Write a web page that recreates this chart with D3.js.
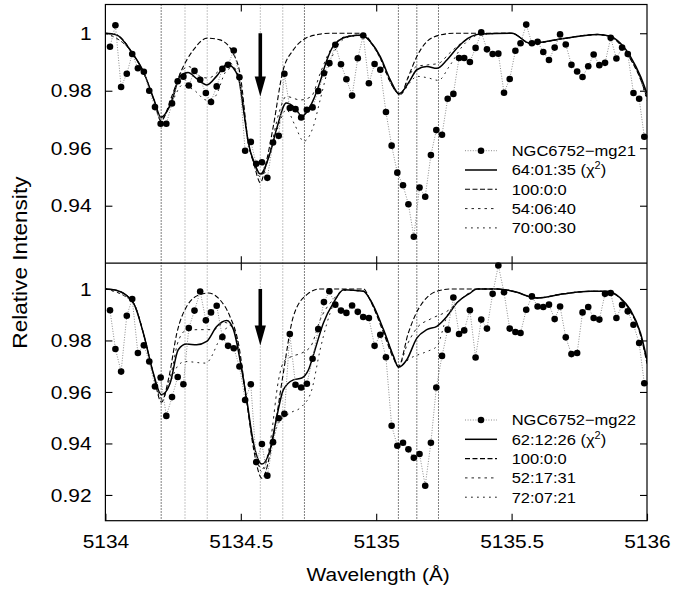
<!DOCTYPE html>
<html><head><meta charset="utf-8">
<script src="https://cdn.jsdelivr.net/npm/d3@7"></script>
<style>
body{margin:0;background:#fff}
svg{display:block}
text{font-family:"Liberation Sans",Arial,Helvetica,sans-serif;fill:#000}
</style>
</head><body>
<svg id="c" width="673" height="592"></svg>
<script>
// ---------------- data ----------------
const xDomain = [5134, 5136];
const yDomainTop = [0.92, 1.01];
const yDomainBottom = [0.91, 1.01];
const xTickValues = [5134, 5134.5, 5135, 5135.5, 5136];
const yTicksTop = [0.94, 0.96, 0.98, 1];
const yTicksBottom = [0.92, 0.94, 0.96, 0.98, 1];
const lineCenters = [5134.206, 5134.294, 5134.376, 5134.572, 5134.655, 5134.735, 5135.082, 5135.150, 5135.230];
const arrowWavelength = 5134.572;
const arrowTipValue = 0.978;

const wavelengths = [
5134.017,5134.037,5134.058,5134.079,5134.099,5134.120,5134.142,5134.162,5134.183,5134.204,
5134.225,5134.246,5134.267,5134.288,5134.308,5134.329,5134.350,5134.371,5134.390,5134.411,
5134.432,5134.453,5134.474,5134.495,5134.516,5134.537,5134.557,5134.578,5134.598,5134.619,
5134.640,5134.661,5134.681,5134.702,5134.723,5134.744,5134.765,5134.786,5134.807,5134.827,
5134.849,5134.870,5134.890,5134.911,5134.932,5134.952,5134.973,5134.994,5135.015,5135.036,
5135.057,5135.078,5135.099,5135.119,5135.139,5135.160,5135.181,5135.202,5135.222,5135.243,
5135.264,5135.285,5135.306,5135.325,5135.346,5135.367,5135.388,5135.409,5135.430,5135.451,
5135.472,5135.493,5135.514,5135.533,5135.554,5135.575,5135.596,5135.617,5135.638,5135.659,
5135.679,5135.700,5135.721,5135.742,5135.762,5135.783,5135.803,5135.824,5135.845,5135.866,
5135.887,5135.908,5135.929,5135.950,5135.971,5135.990];

const mg21 = [
0.9953,1.0028,0.9813,0.9859,0.9928,0.9878,0.9866,0.9800,0.9743,0.9685,
0.9685,0.9756,0.9833,0.9849,0.9818,0.9869,0.9838,0.9792,0.9761,0.9815,
0.9876,0.9890,0.9940,0.9847,0.9591,0.9622,0.9546,0.9551,0.9497,0.9620,
0.9643,0.9859,0.9740,0.9736,0.9707,0.9734,0.9742,0.9799,0.9861,0.9896,
0.9960,0.9892,0.9840,0.9783,0.9913,0.9992,0.9826,0.9893,0.9873,0.9726,
0.9609,0.9515,0.9471,0.9405,0.9292,0.9463,0.9431,0.9576,0.9663,0.9647,
0.9772,0.9789,0.9914,0.9914,0.9900,0.9949,1.0003,0.9944,0.9928,0.9929,
0.9793,0.9841,0.9939,0.9965,1.0030,0.9965,0.9970,0.9935,0.9907,0.9950,
0.9996,0.9961,0.9890,0.9867,0.9848,0.9885,0.9926,0.9889,0.9897,0.9984,
0.9912,0.9950,0.9928,0.9792,0.9772,0.9640];

const mg22 = [
0.9917,0.9767,0.9679,0.9896,0.9961,0.9751,0.9781,0.9718,0.9621,0.9656,
0.9507,0.9580,0.9658,0.9630,0.9848,0.9916,0.9990,0.9878,0.9909,0.9935,
0.9813,0.9779,0.9770,0.9699,0.9569,0.9630,0.9328,0.9398,0.9275,0.9405,
0.9498,0.9515,0.9825,0.9628,0.9617,0.9632,0.9729,0.9844,0.9949,0.9991,
0.9939,0.9916,0.9907,0.9936,0.9911,0.9891,0.9887,0.9779,0.9822,0.9735,
0.9469,0.9391,0.9403,0.9377,0.9344,0.9359,0.9236,0.9403,0.9617,0.9740,
0.9842,0.9967,0.9825,0.9839,0.9917,0.9734,0.9881,0.9846,0.9981,1.0091,
0.9987,0.9846,0.9833,0.9829,0.9919,0.9971,0.9932,0.9930,0.9939,0.9883,
0.9932,0.9812,0.9747,0.9751,0.9909,0.9930,0.9887,0.9881,0.9981,0.9984,
0.9887,0.9938,0.9913,0.9861,0.9790,0.9634];

// synthetic spectra, top panel (mg21)
const fit21Best = [[5134.000,1.0000],[5134.040,0.9995],[5134.100,0.9930],[5134.140,0.9867],[5134.180,0.9768],[5134.205,0.9708],[5134.245,0.9763],[5134.275,0.9850],[5134.305,0.9863],[5134.340,0.9840],[5134.375,0.9820],[5134.410,0.9850],[5134.450,0.9892],[5134.490,0.9850],[5134.510,0.9734],[5134.528,0.9618],[5134.550,0.9550],[5134.572,0.9510],[5134.608,0.9583],[5134.633,0.9670],[5134.668,0.9757],[5134.700,0.9740],[5134.725,0.9712],[5134.768,0.9768],[5134.793,0.9832],[5134.818,0.9907],[5134.842,0.9956],[5134.892,0.9988],[5134.947,0.9994],[5134.978,0.9971],[5135.015,0.9919],[5135.052,0.9838],[5135.085,0.9790],[5135.126,0.9838],[5135.150,0.9873],[5135.187,0.9884],[5135.224,0.9878],[5135.261,0.9907],[5135.298,0.9948],[5135.323,0.9971],[5135.384,0.9997],[5135.501,1.0000],[5135.569,0.9965],[5135.692,0.9982],[5135.816,0.9996],[5135.865,0.9990],[5135.902,0.9965],[5135.939,0.9919],[5135.976,0.9850],[5136.000,0.9790]];
const fit21Pure = [[5134.000,1.0000],[5134.040,0.9995],[5134.100,0.9930],[5134.140,0.9865],[5134.180,0.9765],[5134.205,0.9695],[5134.245,0.9780],[5134.276,0.9860],[5134.325,0.9942],[5134.376,0.9983],[5134.423,0.9977],[5134.472,0.9930],[5134.497,0.9860],[5134.528,0.9620],[5134.550,0.9540],[5134.572,0.9480],[5134.596,0.9560],[5134.620,0.9676],[5134.655,0.9867],[5134.694,0.9942],[5134.735,0.9980],[5134.793,0.9997],[5134.830,1.0000],[5134.947,1.0000],[5134.984,0.9965],[5135.015,0.9915],[5135.052,0.9830],[5135.089,0.9786],[5135.119,0.9850],[5135.150,0.9919],[5135.187,0.9971],[5135.237,0.9994],[5135.290,1.0000],[5135.501,1.0000],[5135.569,0.9965],[5135.692,0.9982],[5135.816,0.9996],[5135.865,0.9988],[5135.902,0.9960],[5135.939,0.9910],[5135.976,0.9840],[5136.000,0.9775]];
const fit21A = [[5134.000,1.0000],[5134.100,0.9930],[5134.140,0.9866],[5134.180,0.9765],[5134.205,0.9700],[5134.245,0.9770],[5134.276,0.9860],[5134.308,0.9884],[5134.350,0.9850],[5134.380,0.9844],[5134.420,0.9870],[5134.452,0.9900],[5134.490,0.9855],[5134.528,0.9615],[5134.550,0.9545],[5134.572,0.9500],[5134.608,0.9590],[5134.640,0.9720],[5134.668,0.9780],[5134.720,0.9768],[5134.760,0.9780],[5134.793,0.9860],[5134.830,0.9940],[5134.892,0.9990],[5134.947,0.9994],[5134.978,0.9968],[5135.015,0.9912],[5135.052,0.9830],[5135.087,0.9786],[5135.126,0.9860],[5135.150,0.9885],[5135.190,0.9890],[5135.230,0.9895],[5135.270,0.9930],[5135.323,0.9972],[5135.384,0.9997],[5135.501,1.0000],[5135.569,0.9964],[5135.692,0.9981],[5135.816,0.9995],[5135.865,0.9988],[5135.902,0.9962],[5135.939,0.9914],[5135.976,0.9843],[5136.000,0.9780]];
const fit21B = [[5134.000,1.0000],[5134.100,0.9930],[5134.140,0.9866],[5134.180,0.9766],[5134.205,0.9702],[5134.245,0.9760],[5134.285,0.9820],[5134.330,0.9800],[5134.372,0.9768],[5134.405,0.9780],[5134.445,0.9867],[5134.470,0.9880],[5134.495,0.9840],[5134.528,0.9615],[5134.550,0.9545],[5134.572,0.9505],[5134.608,0.9580],[5134.640,0.9680],[5134.668,0.9734],[5134.700,0.9680],[5134.732,0.9624],[5134.768,0.9676],[5134.793,0.9768],[5134.830,0.9900],[5134.892,0.9985],[5134.947,0.9992],[5134.978,0.9968],[5135.015,0.9912],[5135.052,0.9830],[5135.087,0.9786],[5135.126,0.9830],[5135.150,0.9850],[5135.190,0.9845],[5135.230,0.9836],[5135.270,0.9885],[5135.323,0.9960],[5135.384,0.9995],[5135.501,1.0000],[5135.569,0.9964],[5135.692,0.9981],[5135.816,0.9995],[5135.865,0.9987],[5135.902,0.9960],[5135.939,0.9910],[5135.976,0.9840],[5136.000,0.9765]];

// synthetic spectra, bottom panel (mg22)
const fit22Best = [[5134.000,1.0000],[5134.040,0.9995],[5134.103,0.9946],[5134.140,0.9829],[5134.177,0.9673],[5134.207,0.9589],[5134.239,0.9634],[5134.269,0.9764],[5134.300,0.9786],[5134.337,0.9783],[5134.374,0.9796],[5134.411,0.9854],[5134.448,0.9877],[5134.473,0.9842],[5134.497,0.9725],[5134.522,0.9569],[5134.547,0.9401],[5134.578,0.9320],[5134.608,0.9375],[5134.633,0.9504],[5134.657,0.9608],[5134.694,0.9647],[5134.725,0.9654],[5134.750,0.9686],[5134.774,0.9764],[5134.805,0.9868],[5134.842,0.9946],[5134.880,0.9997],[5134.953,0.9991],[5134.978,0.9958],[5135.027,0.9842],[5135.064,0.9738],[5135.082,0.9696],[5135.113,0.9725],[5135.150,0.9809],[5135.187,0.9842],[5135.224,0.9855],[5135.261,0.9893],[5135.298,0.9946],[5135.347,0.9984],[5135.372,1.0000],[5135.446,1.0000],[5135.520,0.9987],[5135.569,0.9969],[5135.594,0.9965],[5135.692,0.9981],[5135.791,0.9991],[5135.853,0.9991],[5135.902,0.9965],[5135.939,0.9919],[5135.976,0.9829],[5136.000,0.9725]];
const fit22Pure = [[5134.000,1.0000],[5134.040,0.9995],[5134.103,0.9946],[5134.140,0.9829],[5134.177,0.9670],[5134.207,0.9560],[5134.235,0.9660],[5134.264,0.9829],[5134.300,0.9932],[5134.349,0.9978],[5134.380,0.9984],[5134.423,0.9958],[5134.460,0.9893],[5134.491,0.9790],[5134.522,0.9560],[5134.547,0.9380],[5134.578,0.9265],[5134.620,0.9426],[5134.655,0.9660],[5134.694,0.9893],[5134.744,0.9978],[5134.793,1.0000],[5134.953,1.0000],[5134.978,0.9955],[5135.027,0.9830],[5135.064,0.9730],[5135.082,0.9699],[5135.119,0.9830],[5135.145,0.9900],[5135.175,0.9952],[5135.224,0.9991],[5135.280,1.0000],[5135.446,1.0000],[5135.520,0.9987],[5135.569,0.9969],[5135.594,0.9965],[5135.692,0.9981],[5135.791,0.9991],[5135.853,0.9990],[5135.902,0.9962],[5135.939,0.9912],[5135.976,0.9820],[5136.000,0.9710]];
const fit22A = [[5134.000,1.0000],[5134.103,0.9946],[5134.140,0.9829],[5134.177,0.9672],[5134.207,0.9575],[5134.240,0.9660],[5134.270,0.9800],[5134.300,0.9840],[5134.350,0.9842],[5134.400,0.9842],[5134.440,0.9870],[5134.475,0.9840],[5134.497,0.9730],[5134.522,0.9565],[5134.547,0.9395],[5134.578,0.9300],[5134.608,0.9400],[5134.640,0.9650],[5134.660,0.9720],[5134.694,0.9740],[5134.725,0.9751],[5134.760,0.9780],[5134.793,0.9880],[5134.842,0.9960],[5134.880,0.9995],[5134.953,0.9991],[5134.978,0.9958],[5135.027,0.9840],[5135.064,0.9738],[5135.082,0.9697],[5135.113,0.9780],[5135.150,0.9848],[5135.200,0.9883],[5135.261,0.9913],[5135.330,0.9975],[5135.372,1.0000],[5135.446,1.0000],[5135.520,0.9987],[5135.569,0.9969],[5135.594,0.9965],[5135.692,0.9981],[5135.791,0.9991],[5135.853,0.9990],[5135.902,0.9963],[5135.939,0.9915],[5135.976,0.9825],[5136.000,0.9718]];
const fit22B = [[5134.000,1.0000],[5134.103,0.9946],[5134.140,0.9829],[5134.177,0.9670],[5134.207,0.9570],[5134.240,0.9640],[5134.270,0.9705],[5134.295,0.9718],[5134.370,0.9712],[5134.430,0.9820],[5134.460,0.9860],[5134.480,0.9830],[5134.497,0.9725],[5134.522,0.9565],[5134.547,0.9395],[5134.578,0.9290],[5134.608,0.9380],[5134.640,0.9480],[5134.680,0.9517],[5134.725,0.9543],[5134.762,0.9608],[5134.793,0.9764],[5134.842,0.9940],[5134.880,0.9995],[5134.953,0.9991],[5134.978,0.9958],[5135.027,0.9840],[5135.064,0.9738],[5135.082,0.9697],[5135.126,0.9731],[5135.187,0.9757],[5135.224,0.9777],[5135.261,0.9893],[5135.298,0.9946],[5135.347,0.9984],[5135.372,1.0000],[5135.446,1.0000],[5135.520,0.9987],[5135.569,0.9969],[5135.594,0.9965],[5135.692,0.9981],[5135.791,0.9991],[5135.853,0.9990],[5135.902,0.9963],[5135.939,0.9915],[5135.976,0.9825],[5136.000,0.9715]];

const legendTop = ["NGC6752\u2212mg21", "64:01:35", "100:0:0", "54:06:40", "70:00:30"];
const legendBottom = ["NGC6752\u2212mg22", "62:12:26", "100:0:0", "52:17:31", "72:07:21"];
const xTitle = "Wavelength (\u00C5)";
const yTitle = "Relative Intensity";

// ---------------- drawing ----------------
const svg = d3.select("#c");
const xL = 105.4, xR = 647, yT = 4.5, yM = 263.2, yB = 520.7;
const x = d3.scaleLinear().domain(xDomain).range([xL, xR]);

const fitStyles = [
  {stroke: "#000", width: 1.5, dash: null},
  {stroke: "#000", width: 1.1, dash: "5,2.5"},
  {stroke: "#222", width: 1, dash: "2.5,4"},
  {stroke: "#222", width: 1, dash: "1.8,4.2"}
];
const strongLines = new Set([0, 5, 6, 7, 8]);

const panels = [
  {id: "t", y: d3.scaleLinear().domain(yDomainTop).range([yM, yT]), top: yT, bottom: yM,
   obs: mg21, fits: [fit21Best, fit21Pure, fit21A, fit21B], yticks: yTicksTop, legend: legendTop, legendY: 150.7, labels: false},
  {id: "b", y: d3.scaleLinear().domain(yDomainBottom).range([yB, yM]), top: yM, bottom: yB,
   obs: mg22, fits: [fit22Best, fit22Pure, fit22A, fit22B], yticks: yTicksBottom, legend: legendBottom, legendY: 420, labels: true}
];

const defs = svg.append("defs");

// vertical line markers spanning both panels
svg.append("g").selectAll("line").data(lineCenters).join("line")
  .attr("x1", d => x(d)).attr("x2", d => x(d))
  .attr("y1", yT).attr("y2", yB)
  .attr("stroke", (d, i) => strongLines.has(i) ? "#000" : "#8a8a8a")
  .attr("stroke-width", 1)
  .attr("stroke-dasharray", "1,2");

panels.forEach(p => {
  const y = p.y;
  defs.append("clipPath").attr("id", "clip" + p.id).append("rect")
    .attr("x", xL).attr("y", p.top).attr("width", xR - xL).attr("height", p.bottom - p.top);
  const g = svg.append("g").attr("clip-path", `url(#clip${p.id})`);
  const line = d3.line().x(d => x(d[0])).y(d => y(d[1])).curve(d3.curveMonotoneX);
  [3, 2, 1, 0].forEach(k => {
    const s = fitStyles[k];
    g.append("path").datum(p.fits[k]).attr("d", line)
      .attr("fill", "none").attr("stroke", s.stroke).attr("stroke-width", s.width)
      .attr("stroke-dasharray", s.dash);
  });
  const obs = p.obs.map((v, i) => [wavelengths[i], v]);
  g.append("path").datum(obs).attr("d", d3.line().x(d => x(d[0])).y(d => y(d[1])))
    .attr("fill", "none").attr("stroke", "#8c8c8c").attr("stroke-width", 1).attr("stroke-dasharray", "1,1.6");
  svg.append("g").selectAll("circle").data(obs).join("circle")
    .attr("cx", d => x(d[0])).attr("cy", d => y(d[1])).attr("r", 3.3).attr("fill", "#000");

  // arrow
  const ax = x(arrowWavelength), tip = y(arrowTipValue), base = tip - 20;
  svg.append("line").attr("x1", ax).attr("x2", ax).attr("y1", y(1)).attr("y2", base + 2)
    .attr("stroke", "#000").attr("stroke-width", 3.6);
  svg.append("path").attr("d", `M${ax - 5.6},${base} L${ax + 5.6},${base} L${ax},${tip} Z`).attr("fill", "#000");

  // axes (inward ticks)
  const left = svg.append("g").attr("transform", `translate(${xL},0)`)
    .call(d3.axisLeft(y).tickValues(p.yticks).tickSize(-7).tickPadding(12.6)
      .tickFormat(d => d === 1 ? "1" : d3.format(".2f")(d)));
  const right = svg.append("g").attr("transform", `translate(${xR},0)`)
    .call(d3.axisRight(y).tickValues(p.yticks).tickSize(-7).tickFormat(""));
  const topAx = svg.append("g").attr("transform", `translate(0,${p.top})`)
    .call(d3.axisTop(x).tickValues(xTickValues.slice(1, -1)).tickSize(-7).tickFormat(""));
  const botAx = svg.append("g").attr("transform", `translate(0,${p.bottom})`)
    .call(d3.axisBottom(x).tickValues(p.labels ? xTickValues : xTickValues.slice(1, -1)).tickSize(-7).tickPadding(14)
      .tickFormat(p.labels ? d => String(d) : ""));
  [left, right, topAx, botAx].forEach(a => {
    a.select(".domain").remove();
    a.selectAll(".tick line").attr("stroke", "#000").attr("stroke-width", 1.1);
    a.attr("font-family", null).attr("font-size", null);
    a.selectAll("text").attr("font-size", 19).attr("fill", "#000").attr("transform", "scale(1.1,1)")
      .style("font-family", "'Liberation Sans', Arial, sans-serif");
  });

  // legend
  const lg = svg.append("g");
  p.legend.forEach((label, i) => {
    const ry = p.legendY + i * 19.3;
    if (i === 0) {
      lg.append("line").attr("x1", 465).attr("x2", 497).attr("y1", ry).attr("y2", ry)
        .attr("stroke", "#8c8c8c").attr("stroke-width", 1).attr("stroke-dasharray", "1,1.6");
      lg.append("circle").attr("cx", 481).attr("cy", ry).attr("r", 3.3).attr("fill", "#000");
    } else {
      const s = fitStyles[i - 1];
      lg.append("line").attr("x1", 465).attr("x2", 497).attr("y1", ry).attr("y2", ry)
        .attr("stroke", s.stroke).attr("stroke-width", s.width).attr("stroke-dasharray", s.dash);
    }
    const t = lg.append("text").attr("transform", `translate(511.7,${ry + 5.4}) scale(1.1,1)`)
      .attr("font-size", 15);
    if (i === 1) {
      t.append("tspan").text(label + " (\u03C7");
      t.append("tspan").attr("dy", -6).attr("font-size", 10).text("2");
      t.append("tspan").attr("dy", 6).text(")");
    } else {
      t.text(label);
    }
  });
});

// frame
svg.append("rect").attr("x", xL).attr("y", yT).attr("width", xR - xL).attr("height", yB - yT)
  .attr("fill", "none").attr("stroke", "#000").attr("stroke-width", 1.2);
svg.append("line").attr("x1", xL).attr("x2", xR).attr("y1", yM).attr("y2", yM)
  .attr("stroke", "#000").attr("stroke-width", 1.2);

// titles
svg.append("text").attr("transform", `translate(${(xL + xR) / 2 + 2},580.5) scale(1.1,1)`)
  .attr("text-anchor", "middle").attr("font-size", 19).text(xTitle);
svg.append("text").attr("transform", `translate(26.5,${(yT + yB) / 2}) rotate(-90) scale(1.16,1)`)
  .attr("text-anchor", "middle").attr("font-size", 19.5).text(yTitle);
</script>
</body></html>
